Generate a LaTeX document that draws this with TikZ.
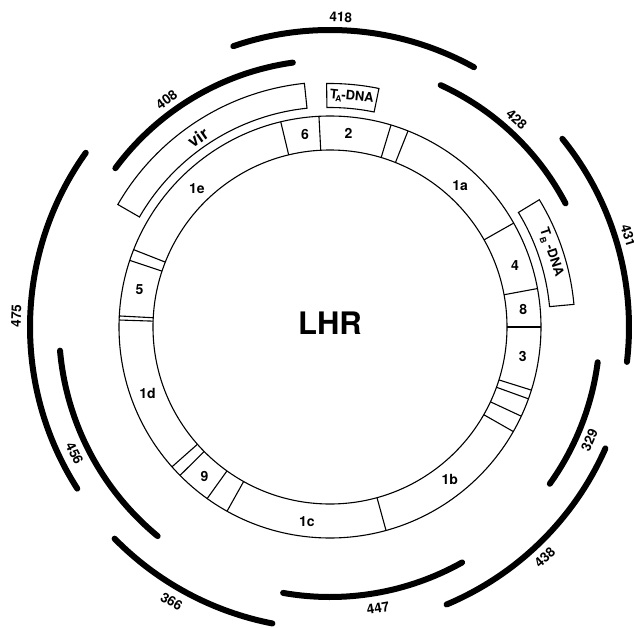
\documentclass[tikz,border=0pt]{standalone}
\usepackage{fontspec}
\setmainfont{TeX Gyre Heros}
\begin{document}
\begin{tikzpicture}[
  ringline/.style={line width=1.1pt},
  boxline/.style={line width=1.1pt, line join=miter},
  thickarc/.style={line width=6pt, line cap=round},
  seglabel/.style={font=\fontsize{14}{16}\selectfont\bfseries, inner sep=0pt},
  arclabel/.style={font=\fontsize{13.5}{15}\selectfont\bfseries, inner sep=0pt},
  boxlabel/.style={font=\fontsize{13}{15}\selectfont\bfseries, inner sep=0pt},
]
\useasboundingbox (-330pt,-300pt) rectangle (304pt,327pt);

% ring
\draw[ringline] (0,0) circle[radius=177pt];
\draw[ringline] (0,0) circle[radius=211pt];
\foreach \a in {103.5,93,73.2,68.3,29.5,10.5,0,-17.4,-19.9,-25,-29.7,-74.6,-119.2,-125.6,-135.3,-138.5,177,178.1,161.6,158.5}
  \draw[ringline] (\a:177pt) -- (\a:211pt);

% segment labels
\node[seglabel] (s6)  at (97.4:194pt)  {6};
\node[seglabel] (s2)  at (84.5:194pt)  {2};
\node[seglabel] (s1a) at (47.3:192pt)  {1a};
\node[seglabel] (s4)  at (18.4:195pt)  {4};
\node[seglabel] (s8)  at (5.2:194pt)   {8};
\node[seglabel] (s3)  at (-8.7:195pt)  {3};
\node[seglabel] (s1b) at (-51.9:194pt) {1b};
\node[seglabel] (s1c) at (-96.8:196pt) {1c};
\node[seglabel] (s9)  at (-130.1:195pt) {9};
\node[seglabel] (s1d) at (-160.1:194pt) {1d};
\node[seglabel] (s5)  at (169:194pt)   {5};
\node[seglabel] (s1e) at (133.9:192pt) {1e};

% centre
\node[font=\fontsize{31}{36}\selectfont\bfseries, inner sep=0pt] (lhr) at (0pt,3.5pt) {LHR};

% boxes
\draw[boxline] (96:220pt) arc[start angle=96, end angle=150, radius=220pt]
  -- (150:245pt) arc[start angle=150, end angle=96, radius=245pt] -- cycle;
\node[font=\fontsize{17}{19}\selectfont\bfseries, inner sep=0pt, rotate=35] (vir) at (124.9:231pt) {vir};

\draw[boxline] (78.4:219.5pt) arc[start angle=78.4, end angle=90.8, radius=219.5pt]
  -- (90.8:243.5pt) arc[start angle=90.8, end angle=78.4, radius=243.5pt] -- cycle;
\node[boxlabel, rotate=-5.5] (ta) at (84.6:231pt)
  {T\kern-0.15em\raisebox{-0.45ex}{\fontsize{8.5}{9}\selectfont A}\kern-0.05em-DNA};

\draw[boxline] (5.3:220.5pt) arc[start angle=5.3, end angle=31.3, radius=220.5pt]
  -- (31.3:245pt) arc[start angle=31.3, end angle=5.3, radius=245pt] -- cycle;
\node[boxlabel, rotate=-71.4] (tb) at (18.6:233pt)
  {T\raisebox{-0.45ex}{\fontsize{8.5}{9}\selectfont B}\hspace{0.3em}-DNA};

% thick arcs with labels
\draw[thickarc] (61:297pt) arc[start angle=61, end angle=109, radius=297pt];
\node[arclabel, rotate=-2] (l418) at (88:310pt) {418};

\draw[thickarc] (98:267pt) arc[start angle=98, end angle=143.5, radius=267pt];
\node[arclabel, rotate=35.7] (l408) at (125.7:280pt) {408};

\draw[thickarc] (27.7:266pt) arc[start angle=27.7, end angle=65.4, radius=266pt];
\node[arclabel, rotate=-42] (l428) at (48:279pt) {428};

\draw[thickarc] (-6.7:299pt) arc[start angle=-6.7, end angle=39, radius=299pt];
\node[arclabel, rotate=-73] (l431) at (17:312pt) {431};

\draw[thickarc] (-35.5:270pt) arc[start angle=-35.5, end angle=-7.5, radius=270pt];
\node[arclabel, rotate=66.5] (l329) at (-23.5:283pt) {329};

\draw[thickarc] (-67.2:301pt) arc[start angle=-67.2, end angle=-23.8, radius=301pt];
\node[arclabel, rotate=43] (l438) at (-47:315pt) {438};

\draw[thickarc] (-100:270pt) arc[start angle=-100, end angle=-60.7, radius=270pt];
\node[arclabel, rotate=9.7] (l447) at (-80.3:285pt) {447};

\draw[thickarc] (-135.5:302pt) arc[start angle=-135.5, end angle=-101, radius=302pt];
\node[arclabel, rotate=-30] (l366) at (-120:317pt) {366};

\draw[thickarc] (-175:271pt) arc[start angle=-175, end angle=-129.5, radius=271pt];
\node[arclabel, rotate=-63.7] (l456) at (-153.7:285pt) {456};

\draw[thickarc] (144.5:300pt) arc[start angle=144.5, end angle=212.6, radius=300pt];
\node[arclabel, rotate=88] (l475) at (178:314pt) {475};

\end{tikzpicture}
\end{document}
